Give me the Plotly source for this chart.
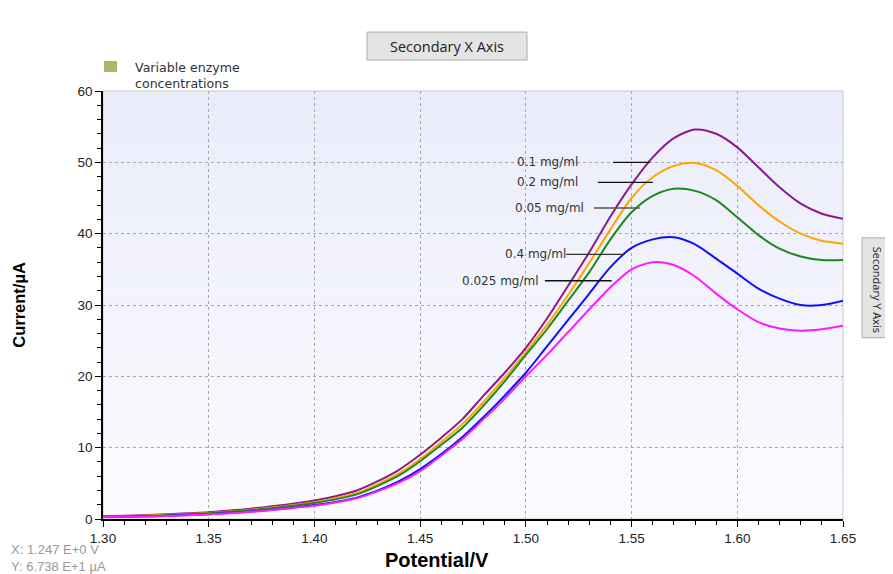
import plotly.graph_objects as go

# ---------------- data ----------------
potential = [1.30, 1.31, 1.32, 1.33, 1.34, 1.35, 1.36, 1.37, 1.38, 1.39,
             1.40, 1.41, 1.42, 1.43, 1.44, 1.45, 1.46, 1.47, 1.48, 1.49,
             1.50, 1.51, 1.52, 1.53, 1.54, 1.55, 1.56, 1.57, 1.58, 1.59,
             1.60, 1.61, 1.62, 1.63, 1.64, 1.65]

c_0_1 = [0.40, 0.45, 0.55, 0.65, 0.80, 0.95, 1.20, 1.45, 1.80, 2.15,
         2.60, 3.20, 4.00, 5.30, 6.90, 9.00, 11.4, 14.0, 17.3, 20.5,
         24.0, 28.1, 32.7, 37.4, 42.4, 46.9, 50.7, 53.4, 54.6, 54.0,
         52.1, 49.3, 46.5, 44.2, 42.8, 42.1]
c_0_2 = [0.35, 0.40, 0.48, 0.58, 0.70, 0.85, 1.05, 1.30, 1.60, 1.95,
         2.35, 2.90, 3.65, 4.90, 6.40, 8.40, 10.8, 13.3, 16.4, 19.8,
         23.4, 27.2, 31.4, 35.9, 40.6, 45.0, 47.9, 49.5, 49.9, 48.9,
         46.7, 44.0, 41.7, 40.0, 39.0, 38.6]
c_0_05 = [0.30, 0.35, 0.42, 0.52, 0.65, 0.80, 1.00, 1.22, 1.50, 1.85,
          2.25, 2.75, 3.45, 4.65, 6.10, 8.10, 10.4, 12.8, 15.9, 19.3,
          23.0, 26.6, 30.6, 34.6, 39.2, 43.0, 45.3, 46.3, 46.0, 44.7,
          42.3, 39.8, 37.9, 36.8, 36.3, 36.3]
c_0_4 = [0.30, 0.32, 0.36, 0.44, 0.55, 0.68, 0.85, 1.05, 1.30, 1.60,
         1.95, 2.40, 3.00, 4.00, 5.30, 7.00, 9.10, 11.5, 14.3, 17.3,
         20.5, 24.2, 27.9, 31.6, 35.3, 38.0, 39.2, 39.5, 38.5, 36.5,
         34.4, 32.3, 30.9, 30.0, 30.0, 30.6]
c_0_025 = [0.28, 0.30, 0.34, 0.42, 0.52, 0.65, 0.80, 1.00, 1.25, 1.55,
           1.85, 2.30, 2.90, 3.90, 5.10, 6.70, 8.90, 11.2, 14.0, 16.9,
           20.0, 23.0, 26.2, 29.4, 32.5, 35.0, 36.0, 35.6, 34.0, 31.6,
           29.4, 27.6, 26.7, 26.4, 26.6, 27.1]

series_names = ["0.1 mg/ml", "0.2 mg/ml", "0.05 mg/ml", "0.4 mg/ml", "0.025 mg/ml"]
series_values = [c_0_1, c_0_2, c_0_05, c_0_4, c_0_025]
series_colors = ["#8b1a8b", "#ffa500", "#1a8a1a", "#1010ff", "#ff1aff"]

# label placement (y at leader line, leader x-range)
label_y = [50.0, 47.2, 43.6, 37.1, 33.4]
label_text_x = [1.5256, 1.5256, 1.5285, 1.5200, 1.5070]
leader_x0 = [1.5412, 1.5341, 1.5322, 1.5190, 1.5090]
leader_x1 = [1.5587, 1.5601, 1.5539, 1.5469, 1.5406]
leader_colors = ["#111111", "#111111", "#555555", "#333333", "#111111"]

x_ticks = [1.30, 1.35, 1.40, 1.45, 1.50, 1.55, 1.60, 1.65]
y_ticks = [0, 10, 20, 30, 40, 50, 60]

# page offset (browser body margin) and plot-area geometry in reference pixels
OFF = 8
W, H = 893 - OFF, 574 - OFF
PL, PR, PT, PB = 103, 843, 91, 519.5
def px(xpix):
    return (xpix - PL) / (PR - PL)
def py(ypix):
    return (PB - ypix) / (PB - PT)

fig = go.Figure()
for name, vals, col in zip(series_names, series_values, series_colors):
    fig.add_trace(go.Scatter(x=potential, y=vals, mode="lines", name=name,
                             line=dict(color=col, width=2, shape="spline", smoothing=0.8),
                             showlegend=False))

shapes = []
n_bands = 40
top_c = (234, 236, 250)
bot_c = (251, 251, 255)
for i in range(n_bands):
    t = i / (n_bands - 1)
    c = tuple(round(top_c[k] + (bot_c[k] - top_c[k]) * t) for k in range(3))
    shapes.append(dict(type="rect", xref="x domain", yref="y domain",
                       x0=0, x1=1, y0=1 - (i + 1) / n_bands, y1=1 - i / n_bands,
                       fillcolor="rgb(%d,%d,%d)" % c, line=dict(width=0), layer="below"))
shapes.append(dict(type="rect", xref="x domain", yref="y domain", x0=0, x1=1, y0=0, y1=1,
                   line=dict(color="#c8c8cc", width=1), layer="below"))
for y, x0, x1, lc in zip(label_y, leader_x0, leader_x1, leader_colors):
    shapes.append(dict(type="line", xref="x", yref="y", x0=x0, x1=x1, y0=y, y1=y,
                       line=dict(color=lc, width=1.3)))
# legend swatch
shapes.append(dict(type="rect", xref="paper", yref="paper",
                   x0=px(104), x1=px(117), y0=py(72), y1=py(61),
                   fillcolor="#b3b36e", line=dict(width=0)))
# Secondary X Axis button
shapes.append(dict(type="rect", xref="paper", yref="paper",
                   x0=px(367), x1=px(527), y0=py(60), y1=py(32),
                   fillcolor="#e4e4e4", line=dict(color="#acacac", width=1)))
# Secondary Y Axis button
shapes.append(dict(type="rect", xref="paper", yref="paper",
                   x0=px(862), x1=px(900), y0=py(338), y1=py(238),
                   fillcolor="#e4e4e4", line=dict(color="#acacac", width=1)))

annotations = []
for name, y, tx in zip(series_names, label_y, label_text_x):
    annotations.append(dict(x=tx, y=y, xref="x", yref="y", text=name, showarrow=False,
                            xanchor="right", yanchor="middle",
                            font=dict(family="DejaVu Sans", size=12, color="#333333")))
annotations += [
    dict(x=px(133), y=py(75), xref="paper", yref="paper", text="Variable enzyme<br>concentrations",
         showarrow=False, xanchor="left", yanchor="middle", align="left",
         font=dict(family="DejaVu Sans", size=12.6, color="#333333")),
    dict(x=px(447), y=py(46), xref="paper", yref="paper", text="Secondary X Axis", showarrow=False,
         xanchor="center", yanchor="middle",
         font=dict(family="Open Sans", size=14.5, color="#222222")),
    dict(x=px(877), y=py(290), xref="paper", yref="paper", text="Secondary Y Axis", showarrow=False,
         xanchor="center", yanchor="middle", textangle=90,
         font=dict(family="Open Sans", size=11, color="#222222")),
    dict(x=px(437), y=py(561), xref="paper", yref="paper", text="<b>Potential/V</b>", showarrow=False,
         xanchor="center", yanchor="middle",
         font=dict(family="Liberation Sans", size=20, color="#000000")),
    dict(x=px(19), y=py(305), xref="paper", yref="paper", text="<b>Current/µA</b>", showarrow=False,
         xanchor="center", yanchor="middle", textangle=-90,
         font=dict(family="Liberation Sans", size=16.5, color="#000000")),
    dict(x=px(9), y=py(559), xref="paper", yref="paper", xanchor="left", yanchor="middle",
         align="left", text="X: 1.247 E+0 V<br>Y: 6.738 E+1 µA", showarrow=False,
         font=dict(family="Liberation Sans", size=13, color="#9a9a9a")),
]

fig.update_layout(
    width=W, height=H,
    margin=dict(l=PL - OFF, r=893 - PR, t=PT - OFF, b=574 - PB, autoexpand=False),
    paper_bgcolor="white", plot_bgcolor="rgba(0,0,0,0)",
    shapes=shapes, annotations=annotations,
    font=dict(family="Liberation Sans", size=13, color="#222222"),
)
fig.update_xaxes(range=[1.30, 1.65], tickvals=x_ticks, ticktext=["%.2f" % v for v in x_ticks],
                 showgrid=True, gridcolor="#a8a8a8", griddash="dot", gridwidth=1,
                 showline=True, linecolor="#000000", linewidth=1.5,
                 ticks="outside", ticklen=6, tickcolor="#000000",
                 minor=dict(dtick=0.01, tick0=1.30, ticks="outside", ticklen=4, tickcolor="#000000", showgrid=False),
                 tickfont=dict(size=13.5, color="#222222"), zeroline=False)
fig.update_yaxes(range=[0, 60], tickvals=y_ticks,
                 showgrid=True, gridcolor="#a8a8a8", griddash="dot", gridwidth=1,
                 showline=True, linecolor="#000000", linewidth=1.5,
                 ticks="outside", ticklen=6, tickcolor="#000000",
                 minor=dict(dtick=2, tick0=0, ticks="outside", ticklen=4, tickcolor="#000000", showgrid=False),
                 tickfont=dict(size=13.5, color="#222222"), zeroline=False)

fig.write_html("out.html")
